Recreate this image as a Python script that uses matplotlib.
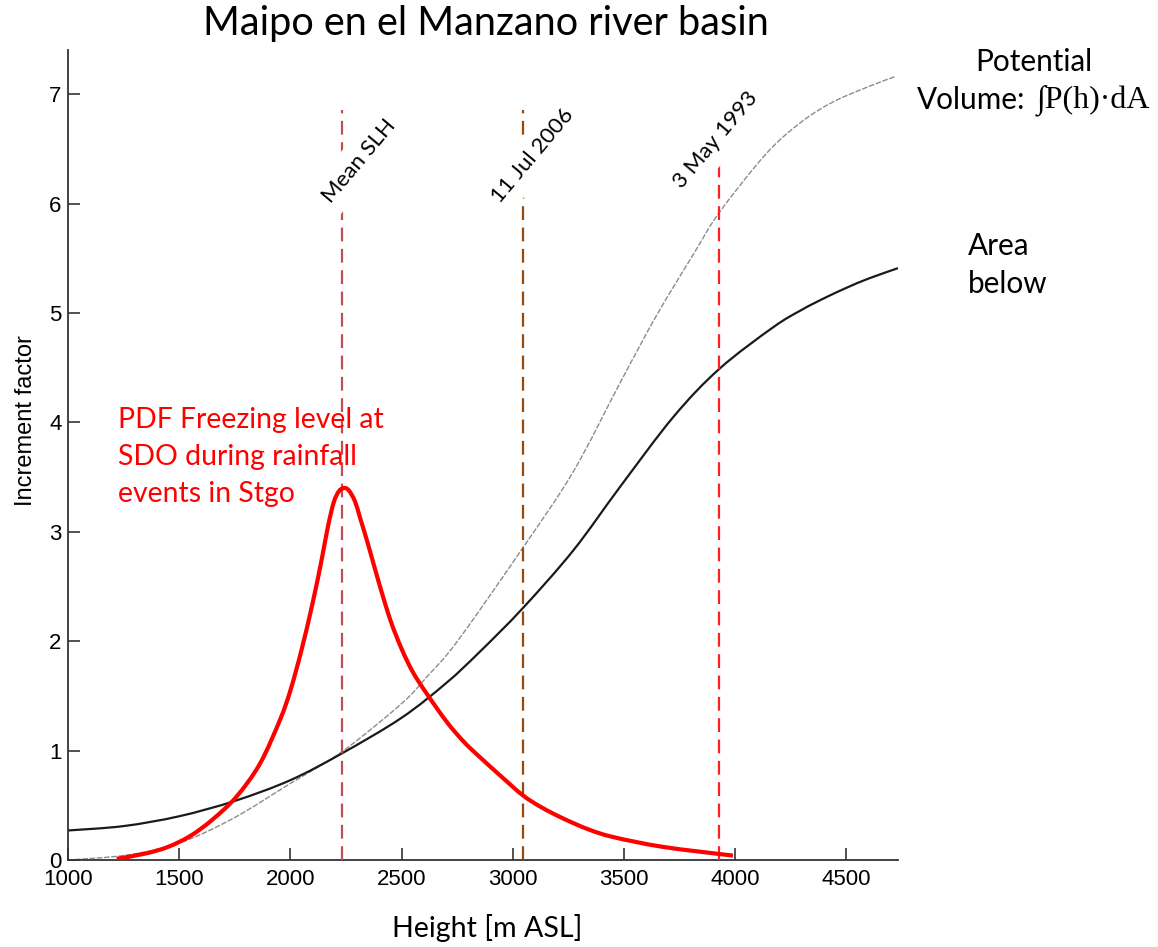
import matplotlib
matplotlib.use("Agg")
import matplotlib.pyplot as plt
from matplotlib.path import Path
from matplotlib.patches import PathPatch
import numpy as np

# ---------------- data ----------------
title = "Maipo en el Manzano river basin"
xlabel = "Height [m ASL]"
ylabel = "Increment factor"
xticks = [1000, 1500, 2000, 2500, 3000, 3500, 4000, 4500]
yticks = [0, 1, 2, 3, 4, 5, 6, 7]

# Area below (black solid)
area_h = [1000, 1250, 1500, 1750, 2000, 2232, 2500, 2702, 2850, 3044, 3272,
          3482, 3722, 3929, 4171, 4300, 4400, 4500, 4600, 4732]
area_v = [0.27, 0.31, 0.40, 0.54, 0.73, 0.975, 1.30, 1.62, 1.90, 2.30, 2.83,
          3.41, 4.05, 4.49, 4.87, 5.03, 5.135, 5.23, 5.315, 5.41]

# Potential volume (grey)
vol_h = [1000, 1264, 1500, 1742, 2000, 2232, 2500, 2616, 2751, 3044, 3272, 3482,
         3647, 3819, 3929, 4141, 4300, 4441, 4600, 4718]
vol_v = [0.0, 0.045, 0.155, 0.38, 0.70, 0.99, 1.43, 1.68, 2.0, 2.85, 3.55, 4.36,
         4.98, 5.56, 5.92, 6.46, 6.75, 6.93, 7.07, 7.16]

# PDF freezing level (red)
pdf_h = [1219, 1350, 1450, 1550, 1650, 1758, 1863, 1953, 2000, 2050, 2100, 2140,
         2169, 2195, 2218, 2240, 2262, 2290, 2313, 2350, 2400, 2450, 2500, 2550,
         2613, 2704, 2780, 2852, 2950, 3046, 3130, 3226, 3340, 3451, 3675, 3990]
pdf_v = [0.01, 0.06, 0.12, 0.22, 0.37, 0.58, 0.88, 1.28, 1.55, 1.92, 2.35, 2.74,
         3.05, 3.27, 3.37, 3.40, 3.38, 3.28, 3.13, 2.88, 2.52, 2.19, 1.93, 1.72,
         1.52, 1.26, 1.08, 0.94, 0.76, 0.59, 0.48, 0.38, 0.28, 0.21, 0.12, 0.04]

# event lines
event_labels = ["Mean SLH", "11 Jul 2006", "3 May 1993"]
event_h = [2231, 3044, 3927]
event_top = [6.86, 6.86, 6.86]
event_colors = ["#c0504d", "#984807", "#ff1f1f"]

pdf_text = "PDF Freezing level at\nSDO during rainfall\nevents in Stgo"


def smooth_path(xs, ys):
    """Catmull-Rom curve through the given points, as cubic Bezier path."""
    P = np.column_stack([xs, ys]).astype(float)
    n = len(P)
    verts = [P[0]]
    codes = [Path.MOVETO]
    for i in range(n - 1):
        p0 = P[i - 1] if i > 0 else P[i]
        p1 = P[i]
        p2 = P[i + 1]
        p3 = P[i + 2] if i + 2 < n else P[i + 1]
        c1 = p1 + (p2 - p0) / 6.0
        c2 = p2 - (p3 - p1) / 6.0
        verts += [c1, c2, p2]
        codes += [Path.CURVE4] * 3
    return Path(np.array(verts), codes)


# ---------------- figure ----------------
W, H = 1158, 947
fig = plt.figure(figsize=(W / 100, H / 100), dpi=100)
L, R, B, T = 68, 898, 860, 50
ax = fig.add_axes([L / W, 1 - B / H, (R - L) / W, (B - T) / H])

ax.set_xlim(1000, 1000 + (R - L) / 0.2224)
ax.set_ylim(0, (B - T) / 109.4)

ax.add_patch(PathPatch(smooth_path(vol_h, vol_v), fill=False, ec="#8c8c8c", lw=1.0,
                       ls=(0, (4, 1.2)), zorder=2))
ax.add_patch(PathPatch(smooth_path(area_h, area_v), fill=False, ec="#1a1a1a", lw=1.6,
                       zorder=2))

for h, top, c in zip(event_h, event_top, event_colors):
    ax.vlines(h, 0, top, colors=c, lw=1.6, linestyles=[(0, (6.2, 3.4))], zorder=3)

ax.add_patch(PathPatch(smooth_path(pdf_h, pdf_v), fill=False, ec="#ff0000", lw=3.0,
                       capstyle="butt", zorder=4))

# event labels (white box hides part of line)
label_pos = [(2310, 6.39), (3090, 6.44), (3912, 6.58)]
for (lx, ly), t in zip(label_pos, event_labels):
    ax.text(lx, ly, t, rotation=50, ha="center", va="center", fontsize=16,
            family="Lato", color="black", zorder=5,
            bbox=dict(boxstyle="square,pad=0.45", fc="white", ec="none"))

# spines / ticks
for s in ["top", "right"]:
    ax.spines[s].set_visible(False)
for s in ["left", "bottom"]:
    ax.spines[s].set_color("#333333")
    ax.spines[s].set_linewidth(1.3)
ax.set_xticks(xticks)
ax.set_yticks(yticks)
ax.tick_params(direction="in", length=8.5, width=1.2, color="#333333",
               labelsize=16, labelcolor="black")
ax.tick_params(axis="x", pad=6.5)
ax.tick_params(axis="y", pad=4.5)
for lab in ax.get_xticklabels() + ax.get_yticklabels():
    lab.set_family("Liberation Sans")

ax.set_ylabel(ylabel, fontsize=17, family="Liberation Sans")
ax.yaxis.set_label_coords((37 - L) / (R - L), (B - 421) / (B - T))

fig.text(487 / W, 1 - 928 / H, xlabel, ha="center", va="center", fontsize=20.6, family="Lato")
fig.text(486 / W, 1 - 24 / H, title, ha="center", va="center", fontsize=28.6, family="Lato")

# red annotation
fig.text(118 / W, 1 - 457 / H, pdf_text, ha="left", va="center", fontsize=20.4,
         family="Lato", color="#ff0000", linespacing=1.52)

# right annotations
fig.text(1034 / W, 1 - 62 / H, "Potential", ha="center", va="center", fontsize=21.4, family="Lato")
fig.text(917 / W, 1 - 100 / H, "Volume:", ha="left", va="center", fontsize=21.4, family="Lato")
fig.text(1150 / W, 1 - 100 / H, "\u222bP(h)\u00b7dA", ha="right", va="center", fontsize=23,
         family="Liberation Serif")
fig.text(968 / W, 1 - 265 / H, "Area\nbelow", ha="left", va="center", fontsize=21.4,
         family="Lato", linespacing=1.44)

fig.savefig("out.png", dpi=100)
